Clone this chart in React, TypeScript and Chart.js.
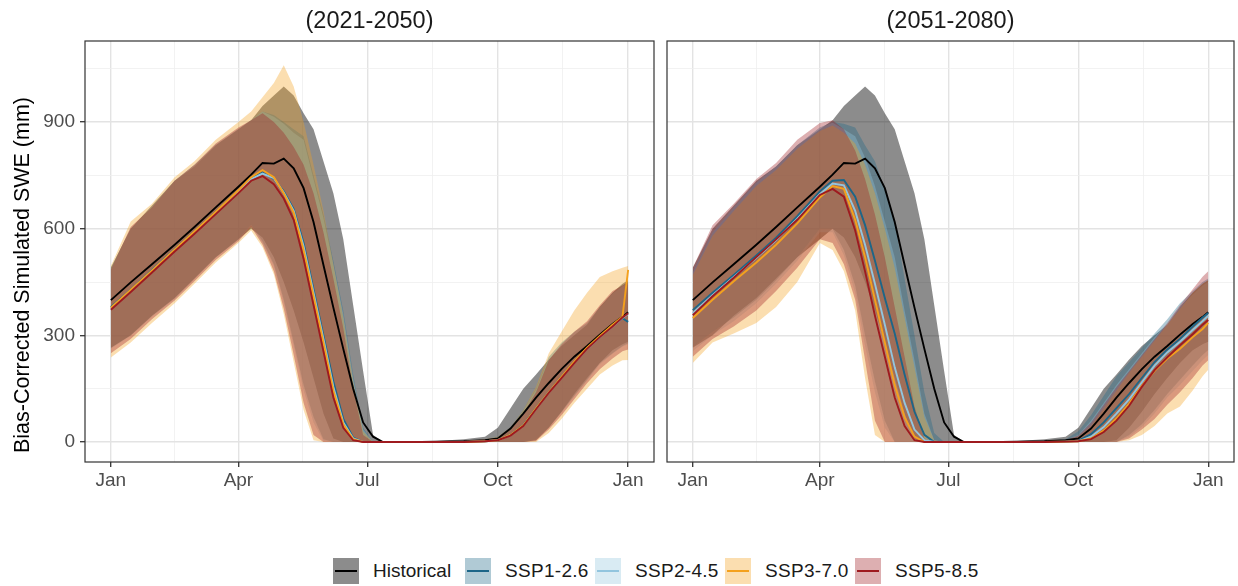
import React, { useEffect, useRef } from 'react';
import { Chart, registerables } from 'chart.js';

Chart.register(...registerables);

// ---------------- DATA ----------------
const DAYS = [1, 15, 30, 46, 60, 75, 91, 100, 108, 116, 123, 130, 137, 144, 151, 158, 165, 172, 179, 186, 193, 220, 250, 265, 274, 283, 292, 301, 310, 319, 328, 337, 346, 355, 362, 366];

const MONTH_TICK_DAYS = [1, 91, 182, 274, 366];
const MONTH_TICK_LABELS = ['Jan', 'Apr', 'Jul', 'Oct', 'Jan'];
const Y_MAJOR_TICKS = [0, 300, 600, 900];
const Y_MINOR_TICKS = [150, 450, 750, 1050];

const PERIODS = ['(2021-2050)', '(2051-2080)'];
const Y_TITLE = 'Bias-Corrected Simulated SWE (mm)';
const SERIES_NAMES = ['Historical', 'SSP1-2.6', 'SSP2-4.5', 'SSP3-7.0', 'SSP5-8.5'];
const LINE_COLORS = ['#000000', '#1d6688', '#92c5de', '#f4a11d', '#9e1a1f'];
const FILL_COLORS = ['rgba(0,0,0,0.45)', 'rgba(29,102,136,0.35)', 'rgba(146,197,222,0.35)', 'rgba(244,161,29,0.35)', 'rgba(158,26,31,0.35)'];

// Historical (same in both panels)
const HIST_MED = [399, 449, 500, 555, 605, 660, 718, 752, 785, 783, 797, 770, 714, 619, 498, 378, 262, 150, 55, 15, 0, 0, 2, 5, 10, 38, 80, 125, 166, 205, 240, 270, 302, 332, 352, 365];
const HIST_LO = [265, 300, 355, 405, 460, 520, 570, 600, 575, 520, 450, 370, 280, 180, 80, 10, 0, 0, 0, 0, 0, 0, 0, 0, 0, 0, 0, 5, 40, 85, 135, 180, 222, 258, 275, 282];
const HIST_HI = [490, 600, 665, 735, 775, 835, 880, 905, 945, 975, 1000, 975, 925, 880, 790, 700, 570, 385, 200, 20, 0, 0, 8, 15, 40, 95, 150, 190, 232, 270, 300, 330, 380, 420, 445, 455];

// 2021-2050
const P1_S1_MED = [380, 428, 483, 542, 592, 647, 706, 742, 758, 740, 705, 655, 560, 430, 300, 170, 65, 12, 0, 0, 0, 0, 0, 2, 5, 20, 48, 95, 140, 183, 225, 263, 296, 326, 348, 338];
const P1_S2_MED = [376, 426, 481, 540, 590, 645, 704, 740, 755, 742, 702, 650, 550, 420, 290, 155, 55, 10, 0, 0, 0, 0, 0, 2, 5, 19, 46, 93, 139, 181, 223, 262, 295, 325, 349, 360];
const P1_S3_MED = [378, 428, 482, 541, 592, 647, 708, 745, 765, 745, 700, 645, 540, 410, 280, 145, 50, 8, 0, 0, 0, 0, 0, 2, 5, 20, 47, 95, 140, 183, 226, 265, 298, 330, 352, 484];
const P1_S5_MED = [372, 422, 477, 536, 586, 641, 700, 735, 748, 725, 685, 625, 515, 385, 255, 125, 40, 5, 0, 0, 0, 0, 0, 2, 5, 18, 45, 92, 138, 180, 222, 262, 295, 325, 350, 362];

const P1_S1_LO = [265, 300, 355, 405, 460, 520, 570, 612, 565, 500, 400, 280, 160, 70, 8, 0, 0, 0, 0, 0, 0, 0, 0, 0, 0, 0, 0, 8, 42, 85, 130, 175, 222, 250, 270, 278];
const P1_S1_HI = [490, 600, 660, 735, 780, 835, 880, 905, 930, 920, 900, 880, 860, 750, 640, 510, 370, 190, 40, 0, 0, 0, 3, 8, 15, 40, 90, 150, 240, 280, 310, 335, 380, 420, 440, 450];
const P1_S2_LO = [262, 298, 352, 402, 458, 518, 568, 608, 560, 495, 392, 270, 145, 55, 3, 0, 0, 0, 0, 0, 0, 0, 0, 0, 0, 0, 0, 6, 40, 82, 128, 172, 218, 248, 268, 275];
const P1_S2_HI = [488, 600, 662, 735, 780, 838, 882, 905, 930, 915, 895, 870, 850, 740, 630, 500, 360, 180, 35, 0, 0, 0, 3, 8, 14, 38, 88, 148, 238, 278, 308, 334, 378, 418, 438, 448];
const P1_S3_LO = [238, 280, 335, 390, 445, 505, 560, 595, 548, 472, 360, 225, 90, 5, 0, 0, 0, 0, 0, 0, 0, 0, 0, 0, 0, 0, 0, 0, 25, 65, 110, 150, 190, 215, 230, 231];
const P1_S3_HI = [495, 620, 670, 745, 790, 850, 900, 930, 970, 1010, 1060, 1000, 900, 780, 650, 500, 350, 170, 30, 0, 0, 0, 3, 8, 15, 40, 90, 155, 250, 310, 370, 420, 464, 480, 490, 495];
const P1_S5_LO = [250, 290, 345, 398, 452, 512, 565, 605, 555, 480, 375, 245, 110, 20, 0, 0, 0, 0, 0, 0, 0, 0, 0, 0, 0, 0, 0, 3, 35, 75, 120, 165, 205, 235, 255, 260];
const P1_S5_HI = [485, 605, 660, 735, 780, 840, 885, 905, 925, 900, 870, 830, 780, 700, 590, 460, 320, 150, 20, 0, 0, 0, 3, 8, 12, 35, 80, 140, 230, 275, 310, 340, 385, 425, 440, 450];

// 2051-2080
const P2_S1_MED = [371, 420, 470, 525, 575, 635, 705, 735, 737, 690, 610, 510, 405, 305, 190, 85, 20, 0, 0, 0, 0, 0, 0, 1, 3, 22, 55, 95, 135, 180, 225, 260, 290, 325, 350, 363];
const P2_S2_MED = [362, 413, 464, 518, 568, 628, 697, 727, 722, 650, 555, 445, 330, 210, 110, 35, 5, 0, 0, 0, 0, 0, 0, 1, 2, 15, 42, 80, 120, 168, 215, 252, 282, 315, 340, 355];
const P2_S3_MED = [349, 400, 452, 505, 555, 615, 688, 720, 712, 625, 520, 400, 280, 160, 70, 15, 0, 0, 0, 0, 0, 0, 0, 1, 2, 10, 32, 66, 108, 158, 200, 235, 262, 295, 318, 335];
const P2_S5_MED = [357, 410, 462, 520, 570, 625, 695, 712, 690, 595, 480, 355, 240, 125, 45, 5, 0, 0, 0, 0, 0, 0, 0, 1, 2, 8, 28, 60, 102, 155, 202, 238, 272, 303, 330, 343];

const P2_S1_LO = [267, 310, 350, 400, 455, 520, 600, 600, 540, 440, 300, 170, 60, 0, 0, 0, 0, 0, 0, 0, 0, 0, 0, 0, 0, 0, 0, 0, 20, 50, 90, 135, 175, 215, 245, 259];
const P2_S1_HI = [480, 590, 660, 730, 775, 835, 885, 900, 895, 885, 835, 790, 710, 620, 460, 300, 140, 25, 0, 0, 0, 0, 2, 8, 30, 75, 130, 185, 225, 265, 305, 345, 390, 425, 450, 460];
const P2_S2_LO = [255, 300, 340, 390, 445, 510, 590, 590, 525, 420, 270, 140, 40, 0, 0, 0, 0, 0, 0, 0, 0, 0, 0, 0, 0, 0, 0, 0, 15, 42, 80, 125, 160, 200, 230, 245];
const P2_S2_HI = [478, 590, 660, 730, 775, 835, 885, 898, 880, 860, 800, 720, 620, 520, 370, 230, 80, 5, 0, 0, 0, 0, 2, 6, 20, 60, 110, 160, 205, 250, 295, 335, 380, 415, 440, 450];
const P2_S3_LO = [222, 280, 305, 335, 380, 450, 560, 540, 480, 370, 180, 20, 0, 0, 0, 0, 0, 0, 0, 0, 0, 0, 0, 0, 0, 0, 0, 0, 5, 20, 45, 80, 100, 145, 185, 203];
const P2_S3_HI = [470, 580, 650, 720, 765, 825, 875, 890, 870, 840, 780, 700, 600, 490, 350, 210, 70, 5, 0, 0, 0, 0, 2, 5, 15, 45, 95, 145, 195, 240, 285, 330, 375, 420, 445, 455];
const P2_S5_LO = [240, 290, 325, 370, 425, 490, 570, 560, 500, 400, 230, 60, 0, 0, 0, 0, 0, 0, 0, 0, 0, 0, 0, 0, 0, 0, 0, 0, 10, 35, 65, 105, 140, 180, 215, 230];
const P2_S5_HI = [490, 610, 670, 740, 785, 850, 897, 905, 880, 820, 740, 640, 520, 380, 240, 100, 10, 0, 0, 0, 0, 0, 2, 6, 18, 55, 105, 155, 200, 245, 290, 335, 385, 430, 465, 480];

const PANEL_MEDS = [
  [HIST_MED, P1_S1_MED, P1_S2_MED, P1_S3_MED, P1_S5_MED],
  [HIST_MED, P2_S1_MED, P2_S2_MED, P2_S3_MED, P2_S5_MED],
];
const PANEL_LOS = [
  [HIST_LO, P1_S1_LO, P1_S2_LO, P1_S3_LO, P1_S5_LO],
  [HIST_LO, P2_S1_LO, P2_S2_LO, P2_S3_LO, P2_S5_LO],
];
const PANEL_HIS = [
  [HIST_HI, P1_S1_HI, P1_S2_HI, P1_S3_HI, P1_S5_HI],
  [HIST_HI, P2_S1_HI, P2_S2_HI, P2_S3_HI, P2_S5_HI],
];

// ---------------- CONFIG ----------------
const FONT = '"Liberation Sans", Arial, Helvetica, sans-serif';
const X_MIN = -17.25;
const X_MAX = 384.25;
const Y_MIN = -56.25;
const Y_MAX = 1128;

const toPts = (arr: number[]) => arr.map((v, i) => ({ x: DAYS[i], y: v }));

const X_MINOR_TICKS = MONTH_TICK_DAYS.slice(0, -1).map((d, i) => (d + MONTH_TICK_DAYS[i + 1]) / 2);

const decorPlugin = {
  id: 'panelDecor',
  afterDatasetsDraw(chart: any) {
    const { ctx, chartArea } = chart;
    ctx.save();
    ctx.strokeStyle = '#333333';
    ctx.lineWidth = 1.2;
    ctx.strokeRect(chartArea.left, chartArea.top, chartArea.right - chartArea.left, chartArea.bottom - chartArea.top);
    ctx.restore();
  },
  afterDraw(chart: any) {
    const { ctx, chartArea } = chart;
    const o = chart.options.plugins.panelDecor || {};
    ctx.save();
    ctx.fillStyle = '#1a1a1a';
    ctx.font = `23.5px ${FONT}`;
    ctx.textAlign = 'center';
    ctx.textBaseline = 'middle';
    ctx.fillText(o.title || '', (chartArea.left + chartArea.right) / 2, 22);
    if (o.yTitle) {
      ctx.translate(23, 275);
      ctx.rotate(-Math.PI / 2);
      ctx.fillStyle = '#000000';
      ctx.font = `21.5px ${FONT}`;
      ctx.fillText(o.yTitle, 0, 0);
    }
    ctx.restore();
  },
};

function buildDatasets(p: number) {
  const ds: any[] = [];
  let order = 100;
  for (let i = 0; i < SERIES_NAMES.length; i++) {
    ds.push({
      label: SERIES_NAMES[i] + ' lower',
      data: toPts(PANEL_LOS[p][i]),
      borderWidth: 0,
      borderColor: 'rgba(0,0,0,0)',
      backgroundColor: 'rgba(0,0,0,0)',
      pointRadius: 0,
      fill: false,
      order: order--,
    });
    ds.push({
      label: SERIES_NAMES[i] + ' upper',
      data: toPts(PANEL_HIS[p][i]),
      borderWidth: 0,
      borderColor: 'rgba(0,0,0,0)',
      backgroundColor: FILL_COLORS[i],
      pointRadius: 0,
      fill: '-1',
      order: order--,
    });
  }
  order = 50;
  for (let i = 0; i < SERIES_NAMES.length; i++) {
    ds.push({
      label: SERIES_NAMES[i],
      data: toPts(PANEL_MEDS[p][i]),
      borderWidth: 1.9,
      borderColor: LINE_COLORS[i],
      backgroundColor: LINE_COLORS[i],
      pointRadius: 0,
      fill: false,
      tension: 0,
      order: order--,
    });
  }
  return ds;
}

function makeConfig(p: number, showY: boolean, yWidth: number): any {
  return {
    type: 'line',
    data: { datasets: buildDatasets(p) },
    plugins: [decorPlugin],
    options: {
      animation: false,
      responsive: false,
      events: [],
      layout: { padding: { left: 0, right: 4, top: 41, bottom: 0 } },
      plugins: {
        legend: { display: false },
        tooltip: { enabled: false },
        title: { display: false },
        panelDecor: { title: PERIODS[p], yTitle: showY ? Y_TITLE : '' },
      },
      scales: {
        x: {
          type: 'linear',
          min: X_MIN,
          max: X_MAX,
          afterBuildTicks: (scale: any) => {
            const vals = [...MONTH_TICK_DAYS, ...X_MINOR_TICKS].sort((a, b) => a - b);
            scale.ticks = vals.map((v) => ({ value: v }));
          },
          afterFit: (scale: any) => {
            scale.height = 38;
          },
          ticks: {
            autoSkip: false,
            maxRotation: 0,
            padding: 2,
            color: '#4d4d4d',
            font: { family: FONT, size: 19 },
            callback: (v: number) => {
              const k = MONTH_TICK_DAYS.indexOf(v);
              return k >= 0 ? MONTH_TICK_LABELS[k] : '';
            },
          },
          grid: {
            drawTicks: true,
            tickLength: 5,
            color: (c: any) => (c.tick && MONTH_TICK_DAYS.includes(c.tick.value) ? '#e3e3e3' : '#efefef'),
            lineWidth: (c: any) => (c.tick && MONTH_TICK_DAYS.includes(c.tick.value) ? 1.4 : 0.8),
            tickColor: (c: any) => (c.tick && MONTH_TICK_DAYS.includes(c.tick.value) ? '#333333' : 'rgba(0,0,0,0)'),
            tickWidth: 1.3,
          },
          border: { display: false },
        },
        y: {
          type: 'linear',
          min: Y_MIN,
          max: Y_MAX,
          afterBuildTicks: (scale: any) => {
            const vals = [...Y_MAJOR_TICKS, ...Y_MINOR_TICKS].sort((a, b) => a - b);
            scale.ticks = vals.map((v) => ({ value: v }));
          },
          afterFit: (scale: any) => {
            scale.width = yWidth;
          },
          title: { display: false },
          ticks: {
            display: showY,
            padding: 5,
            color: '#4d4d4d',
            font: { family: FONT, size: 19 },
            callback: (v: number) => (Y_MAJOR_TICKS.includes(v) ? String(v) : ''),
          },
          grid: {
            drawTicks: showY,
            tickLength: 5,
            color: (c: any) => (c.tick && Y_MAJOR_TICKS.includes(c.tick.value) ? '#e3e3e3' : '#efefef'),
            lineWidth: (c: any) => (c.tick && Y_MAJOR_TICKS.includes(c.tick.value) ? 1.4 : 0.8),
            tickColor: (c: any) => (c.tick && Y_MAJOR_TICKS.includes(c.tick.value) ? '#333333' : 'rgba(0,0,0,0)'),
            tickWidth: 1.3,
          },
          border: { display: false },
        },
      },
    },
  };
}

function Panel({ p, left, width, showY, yWidth }: { p: number; left: number; width: number; showY: boolean; yWidth: number }) {
  const ref = useRef<HTMLCanvasElement | null>(null);
  useEffect(() => {
    if (!ref.current) return;
    const chart = new Chart(ref.current, makeConfig(p, showY, yWidth));
    return () => chart.destroy();
  }, [p, showY, yWidth]);
  return (
    <canvas
      ref={ref}
      width={width}
      height={500}
      style={{ position: 'absolute', left, top: 0, width, height: 500 }}
    />
  );
}

function Legend() {
  return (
    <div
      style={{
        position: 'absolute',
        left: 333,
        top: 558,
        display: 'flex',
        alignItems: 'center',
        fontFamily: FONT,
        fontSize: 19,
        color: '#1a1a1a',
        whiteSpace: 'nowrap',
      }}
    >
      {SERIES_NAMES.map((name, i) => (
        <div key={name} style={{ display: 'flex', alignItems: 'center', width: i === 0 ? 132 : 130 }}>
          <div
            style={{
              width: 26,
              height: 26,
              background: FILL_COLORS[i],
              position: 'relative',
              flex: '0 0 auto',
            }}
          >
            <div
              style={{
                position: 'absolute',
                left: 2,
                right: 2,
                top: 12,
                height: 2,
                background: LINE_COLORS[i],
              }}
            />
          </div>
          <span style={{ marginLeft: 14, letterSpacing: i === 0 ? 0 : 0.3 }}>{name}</span>
        </div>
      ))}
    </div>
  );
}

export default function App() {
  return (
    <div style={{ position: 'absolute', left: 0, top: 0, width: 1238, height: 586, background: '#ffffff' }}>
      <Panel p={0} left={0} width={658} showY={true} yWidth={85} />
      <Panel p={1} left={660} width={578} showY={false} yWidth={7} />
      <Legend />
    </div>
  );
}
